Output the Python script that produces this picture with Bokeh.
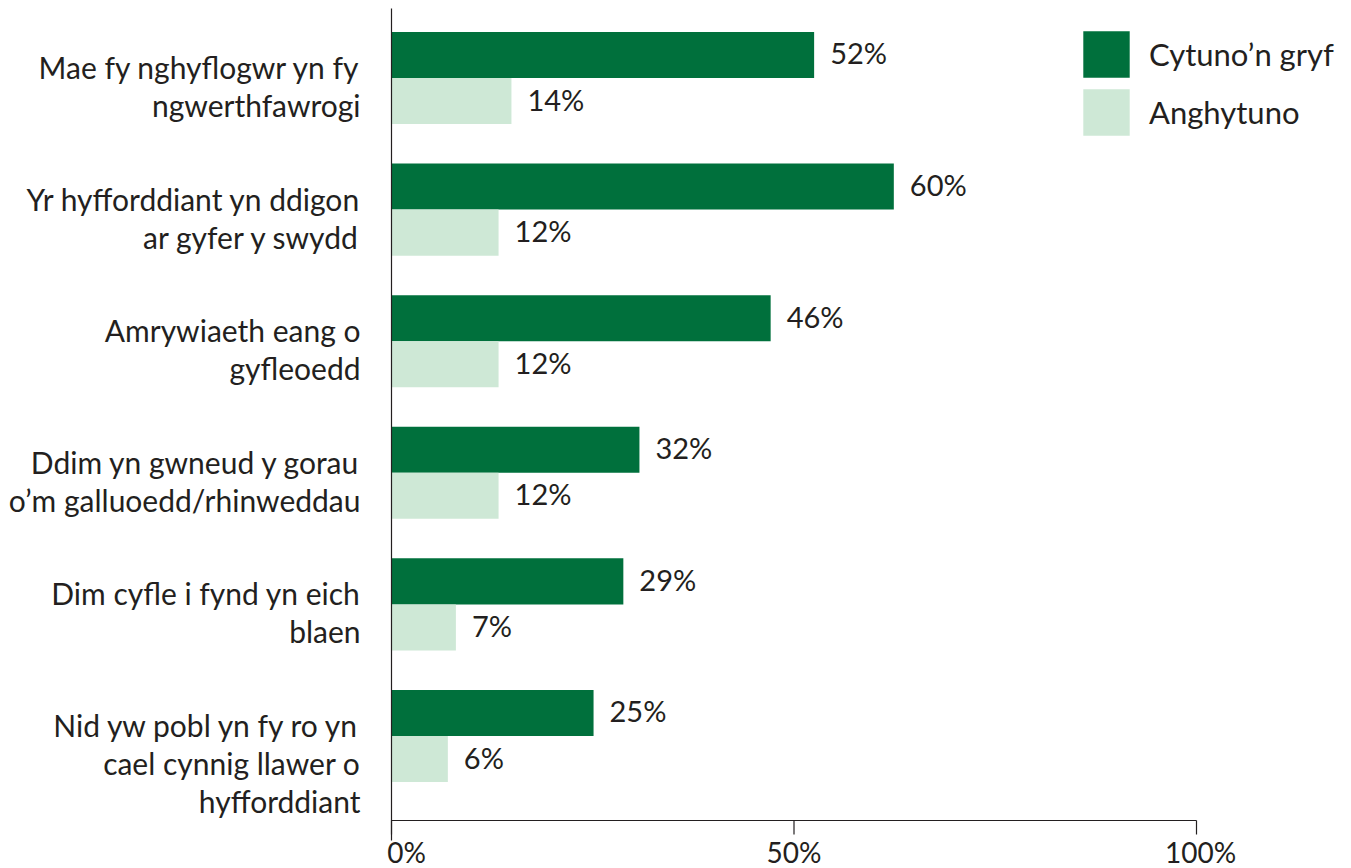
from bokeh.plotting import figure
from bokeh.models import (ColumnDataSource, Range1d, Legend, LegendItem,
                          LabelSet)
from bokeh.core.properties import value
from bokeh.embed import file_html
from bokeh.resources import INLINE

# ---- data -------------------------------------------------------------
categories = [
    "Mae fy nghyflogwr yn fy\nngwerthfawrogi",
    "Yr hyfforddiant yn ddigon\nar gyfer y swydd",
    "Amrywiaeth eang o\ngyfleoedd",
    "Ddim yn gwneud y gorau\no\u2019m galluoedd/rhinweddau",
    "Dim cyfle i fynd yn eich\nblaen",
    "Nid yw pobl yn fy ro yn\ncael cynnig llawer o\nhyfforddiant",
]
series_names = ["Cytuno\u2019n gryf", "Anghytuno"]
# bar lengths as drawn in the picture (%)
agree_strongly = [52.5, 62.4, 47.1, 30.8, 28.8, 25.1]
disagree = [14.9, 13.3, 13.3, 13.3, 8.0, 7.0]
# value labels as printed
agree_labels = ["52%", "60%", "46%", "32%", "29%", "25%"]
disagree_labels = ["14%", "12%", "12%", "12%", "7%", "6%"]
x_ticks = [0, 50, 100]
x_tick_labels = ["0%", "50%", "100%"]

# ---- style ------------------------------------------------------------
DARK = "#00703C"
LIGHT = "#CEE8D6"
TEXT = "#231F20"
FONT = "Lato"
FS = "30px"
FS_NUM = "29px"
FS_TICK = "28px"
BAR_H = 0.35
LINE_H = 38
PX_X = 8.05      # px per percent
PX_Y = 131.6     # px per category
X0 = 391         # px of 0 %
Y0 = 77.5        # px of first category centre
AXIS_PX = 820    # px of the x axis line
TICK_PX = 14
W, H = 1351, 868
TICK_DX = [15, 0, 4]   # small horizontal nudges of the tick labels

n = len(categories)
idx = list(range(n))


def ypx(px):
    return (px - Y0) / PX_Y


p = figure(width=W, height=H,
           x_range=Range1d(-X0 / PX_X, (W - X0) / PX_X),
           y_range=Range1d(ypx(H), ypx(0)),
           min_border=0, output_backend="svg", toolbar_location=None)
p.grid.visible = False
p.outline_line_color = None
p.xaxis.visible = False
p.yaxis.visible = False

dark_src = ColumnDataSource(dict(y=[i - BAR_H / 2 for i in idx], v=agree_strongly,
                                 lab=agree_labels))
light_src = ColumnDataSource(dict(y=[i + BAR_H / 2 for i in idx], v=disagree,
                                  lab=disagree_labels))

r_dark = p.hbar(y="y", left=0, right="v", height=BAR_H, source=dark_src,
                fill_color=DARK, line_color=None)
r_light = p.hbar(y="y", left=0, right="v", height=BAR_H, source=light_src,
                 fill_color=LIGHT, line_color=None)

# axes drawn as lines
p.segment(x0=[0], x1=[0], y0=[ypx(8)], y1=[ypx(AXIS_PX + 20)],
          line_color=TEXT, line_width=1.2)
p.segment(x0=[min(x_ticks)], x1=[max(x_ticks)], y0=[ypx(AXIS_PX)], y1=[ypx(AXIS_PX)],
          line_color=TEXT, line_width=1.2)
p.segment(x0=x_ticks, x1=x_ticks, y0=[ypx(AXIS_PX)] * len(x_ticks),
          y1=[ypx(AXIS_PX + TICK_PX)] * len(x_ticks), line_color=TEXT, line_width=1.2)

tick_src = ColumnDataSource(dict(x=x_ticks, t=x_tick_labels,
                                 y=[ypx(AXIS_PX)] * len(x_ticks), dx=TICK_DX))
p.add_layout(LabelSet(x="x", y="y", text="t", source=tick_src, x_offset="dx",
                      y_offset=-31, text_font=value(FONT), text_font_size=FS_TICK,
                      text_color=TEXT, text_baseline="middle", text_align="center"))

for src in (dark_src, light_src):
    p.add_layout(LabelSet(x="v", y="y", text="lab", source=src, x_offset=16,
                          y_offset=2, text_font=value(FONT), text_font_size=FS_NUM,
                          text_color=TEXT, text_baseline="middle",
                          text_align="left"))

# category labels (one row per line)
cx, cy, cyo, ct = [], [], [], []
for i, cat in enumerate(categories):
    for j, line in enumerate(cat.split("\n")):
        cx.append(0)
        cy.append(i)
        cyo.append(11 - LINE_H * j)
        ct.append(line)
cat_src = ColumnDataSource(dict(x=cx, y=cy, yo=cyo, t=ct))
p.add_layout(LabelSet(x="x", y="y", text="t", y_offset="yo", x_offset=-31,
                      source=cat_src, text_font=value(FONT), text_font_size=FS,
                      text_color=TEXT, text_baseline="middle", text_align="right"))

legend = Legend(items=[LegendItem(label=series_names[0], renderers=[r_dark]),
                       LegendItem(label=series_names[1], renderers=[r_light])],
                location=(1077, H - 141), glyph_width=58, glyph_height=58,
                label_height=58, spacing=0, padding=0, margin=0,
                label_standoff=14, label_text_font=FONT, label_text_font_size="31px",
                label_text_color=TEXT, border_line_color=None,
                background_fill_alpha=0)
p.add_layout(legend, "center")

open("out.html", "w").write(file_html(p, INLINE))
